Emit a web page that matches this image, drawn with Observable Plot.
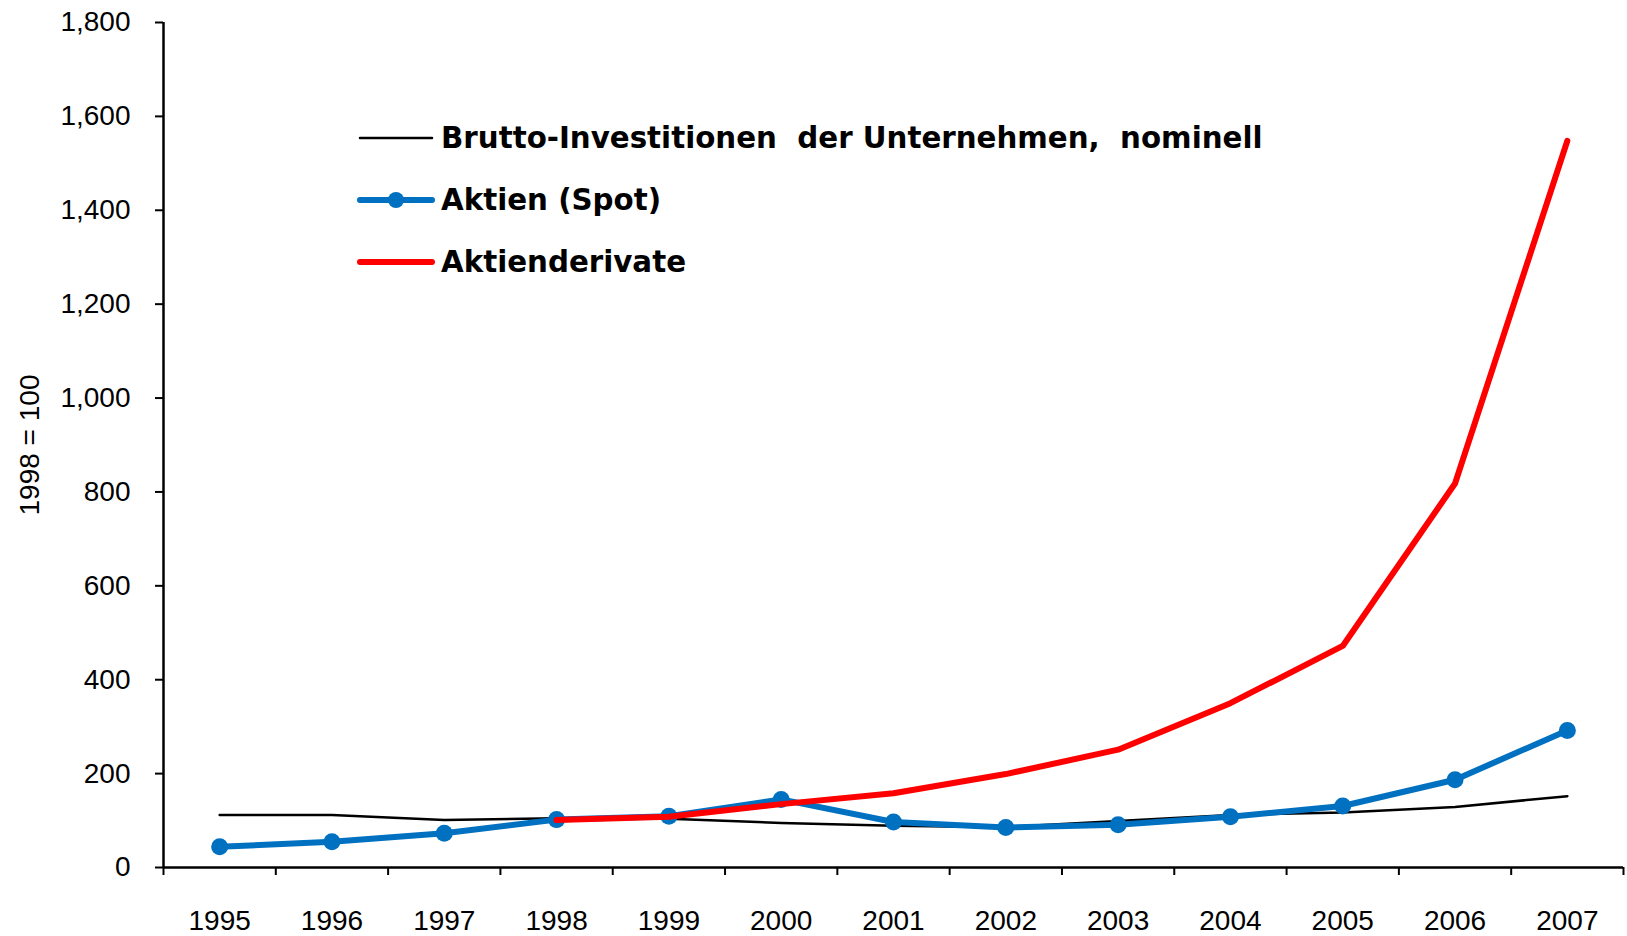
<!DOCTYPE html>
<html><head><meta charset="utf-8">
<script src="https://cdn.jsdelivr.net/npm/d3@7"></script>
<script src="https://cdn.jsdelivr.net/npm/@observablehq/plot@0.6"></script>
<style>
body{margin:0;background:#fff;}
#wrap{position:relative;width:1627px;height:936px;}
#legend{position:absolute;left:0;top:0;font-family:"DejaVu Sans",sans-serif;font-weight:bold;font-size:29.3px;color:#000;}
.row{position:absolute;left:357px;height:40px;display:flex;align-items:center;white-space:pre;}
.row svg{display:block;}
</style></head><body><div id="wrap"><div id="legend"></div></div>
<script>
const years = [1995, 1996, 1997, 1998, 1999, 2000, 2001, 2002, 2003, 2004, 2005, 2006, 2007];
const brutto = [112, 112, 101, 105, 104, 95, 89, 86, 99, 112, 117, 129, 152];
const aktien = [44, 55, 73, 102, 109, 145, 97, 85, 91, 108, 131, 187, 292];
const derivate = [null, null, null, 101, 108, 135, 158, 199, 251, 350, 472, 818, 1548];
const seriesNames = ["Brutto-Investitionen  der Unternehmen,  nominell", "Aktien (Spot)", "Aktienderivate"];
const seriesColors = ["#000000", "#0070C0", "#FF0000"];
const yTicks = [0, 200, 400, 600, 800, 1000, 1200, 1400, 1600, 1800];
const yLabel = "1998 = 100";

const rows = (vals, name) => years.map((yr, i) => ({year: yr, value: vals[i], series: name})).filter(d => d.value != null);
const dBrutto = rows(brutto, seriesNames[0]);
const dAktien = rows(aktien, seriesNames[1]);
const dDeriv = rows(derivate, seriesNames[2]);
const edges = years.map(y => y - 0.5).concat([years[years.length - 1] + 0.5]);

const chart = Plot.plot({
  width: 1627, height: 936,
  marginLeft: 163, marginRight: 4, marginTop: 22, marginBottom: 69,
  style: {fontFamily: "'Liberation Sans', sans-serif", fontSize: "28px", color: "#000", background: "#fff"},
  x: {type: "linear", domain: [edges[0], edges[edges.length - 1]]},
  y: {domain: [0, 1800]},
  marks: [
    Plot.axisY({ticks: yTicks, tickSize: 8, tickPadding: 25, tickFormat: d3.format(","), strokeWidth: 2, label: null}),
    Plot.axisX({ticks: edges, tickSize: 8, tickFormat: () => "", strokeWidth: 2, label: null}),
    Plot.axisX({ticks: years, tickSize: 0, tickPadding: 43, tickFormat: d => String(d), label: null}),
    Plot.ruleY([0], {strokeWidth: 2.5}),
    Plot.ruleX([edges[0]], {strokeWidth: 2.5}),
    Plot.text([yLabel], {frameAnchor: "left", textAnchor: "middle", dx: -133, rotate: -90, fontSize: 28}),
    Plot.line(dBrutto, {x: "year", y: "value", stroke: seriesColors[0], strokeWidth: 2.5}),
    Plot.line(dAktien, {x: "year", y: "value", stroke: seriesColors[1], strokeWidth: 6}),
    Plot.dot(dAktien, {x: "year", y: "value", fill: seriesColors[1], r: 8.5}),
    Plot.line(dDeriv, {x: "year", y: "value", stroke: seriesColors[2], strokeWidth: 6})
  ]
});
document.getElementById("wrap").prepend(chart);

const legend = document.getElementById("legend");
const centers = [138, 200, 262];
seriesNames.forEach((name, i) => {
  const row = document.createElement("div");
  row.className = "row";
  row.style.top = (centers[i] - 20) + "px";
  const w = i === 0 ? 2.5 : 6;
  const dot = i === 1 ? `<circle cx="39" cy="20" r="8" fill="${seriesColors[i]}"/>` : "";
  row.innerHTML = `<svg width="84" height="40"><line x1="3" x2="75" y1="20" y2="20" stroke="${seriesColors[i]}" stroke-width="${w}" stroke-linecap="round"/>${dot}</svg><span>${name}</span>`;
  legend.appendChild(row);
});
</script>
</body></html>
